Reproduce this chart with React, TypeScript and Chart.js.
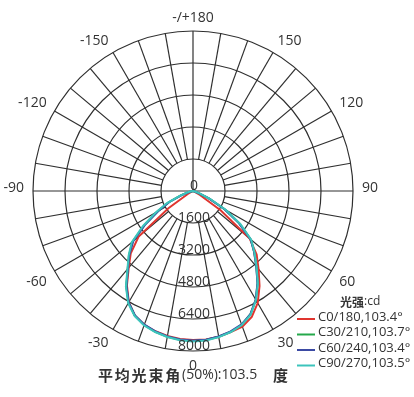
import React, { useEffect, useRef } from 'react';
import { Chart, registerables } from 'chart.js';

Chart.register(...registerables);

// Polar angles (degrees from nadir) at which intensities are read
const ANGLES = [0, 5, 10, 15, 20, 25, 30, 35, 40, 45, 50, 55, 60, 65, 70, 75, 80, 85, 90];

// Luminous intensity (cd); left = negative angles, right = positive angles. Zero above 90°.
const C0_LEFT = [7450, 7430, 7360, 7260, 7120, 6880, 6420, 5760, 5000, 4400, 3550, 1500, 300, 0, 0, 0, 0, 0, 0];
const C0_RIGHT = [7460, 7450, 7400, 7300, 7220, 6950, 6470, 5800, 5100, 4500, 3700, 1700, 400, 0, 0, 0, 0, 0, 0];
const C30_LEFT = [7500, 7470, 7400, 7290, 7130, 6880, 6450, 5820, 5080, 4520, 3950, 2950, 2050, 1350, 650, 250, 50, 0, 0];
const C30_RIGHT = [7500, 7480, 7400, 7290, 7120, 6800, 6280, 5630, 4930, 4330, 3780, 2850, 1850, 900, 300, 80, 0, 0, 0];
const C60_LEFT = [7480, 7450, 7380, 7270, 7110, 6860, 6430, 5800, 5060, 4500, 3900, 2900, 2000, 1300, 600, 200, 0, 0, 0];
const C60_RIGHT = [7480, 7460, 7380, 7270, 7100, 6790, 6270, 5620, 4920, 4320, 3760, 2800, 1800, 850, 250, 50, 0, 0, 0];
const C90_LEFT = [7520, 7490, 7410, 7300, 7150, 6900, 6480, 5850, 5100, 4550, 4000, 3050, 2150, 1450, 700, 300, 100, 0, 0];
const C90_RIGHT = [7520, 7500, 7420, 7300, 7130, 6820, 6300, 5650, 4950, 4350, 3800, 2900, 1900, 950, 350, 100, 0, 0, 0];

const SERIES_NAMES = ['C0/180,103.4°', 'C30/210,103.7°', 'C60/240,103.4°', 'C90/270,103.5°'];
const SERIES_COLORS = ['#e0352f', '#25a84b', '#3b4aa3', '#3cc4bc'];

const RING_TICKS = [0, 1600, 3200, 4800, 6400, 8000];
const ANGLE_TICKS = [180, 150, 120, 90, 60, 30, 0, -30, -60, -90, -120, -150];
const ANGLE_TICK_LABELS = ['-/+180', '150', '120', '90', '60', '30', '0', '-30', '-60', '-90', '-120', '-150'];

const LEGEND_TITLE_BOLD = '光强';
const LEGEND_TITLE_UNIT = ':cd';
const FOOT_BOLD_1 = '平均光束角';
const FOOT_TEXT = '(50%):103.5';
const FOOT_BOLD_2 = '度';

const GRID = '#2f2f2f';
const TEXT = '#333333';
const FONT = '"Open Sans", "Noto Sans", sans-serif';
const CJK = '"Noto Sans CJK SC", "Noto Sans", sans-serif';

// radar label index i <-> angle -5*i (clockwise from nadir, left side negative)
const LABEL_DEGS = Array.from({ length: 72 }, (_, i) => (i <= 36 ? -5 * i : 360 - 5 * i));
const idxOf = (deg: number) => (deg <= 0 ? -deg / 5 : 72 - deg / 5);

function series(left: number[], right: number[]) {
  return LABEL_DEGS.map((d) => {
    const arr = d <= 0 ? left : right;
    const k = ANGLES.indexOf(Math.abs(d));
    return k >= 0 ? arr[k] : 0;
  });
}

const polarDecor = {
  id: 'polarDecor',
  beforeDatasetsDraw(chart: any) {
    const s = chart.scales.r;
    const ctx = chart.ctx;
    const rin = s.getDistanceFromCenterForValue(1600);
    const rout = s.getDistanceFromCenterForValue(8000);
    ctx.save();
    ctx.strokeStyle = GRID;
    ctx.lineWidth = 1.2;
    for (let deg = -170; deg <= 180; deg += 10) {
      if (deg === 0) continue;
      const i = idxOf(deg);
      const full = deg === 180 || deg === 90 || deg === -90;
      const p0 = s.getPointPosition(i, full ? 0 : rin);
      const p1 = s.getPointPosition(i, rout);
      ctx.beginPath();
      ctx.moveTo(p0.x, p0.y);
      ctx.lineTo(p1.x, p1.y);
      ctx.stroke();
    }
    ctx.restore();
  },
  afterDraw(chart: any) {
    const s = chart.scales.r;
    const ctx = chart.ctx;
    ctx.save();
    ctx.fillStyle = TEXT;
    // radial tick labels along nadir
    ctx.font = `14px ${FONT}`;
    ctx.textAlign = 'center';
    ctx.textBaseline = 'alphabetic';
    RING_TICKS.forEach((v) => {
      const p = s.getPointPosition(0, s.getDistanceFromCenterForValue(v));
      ctx.fillText(String(v), p.x + 1, p.y - 1);
    });
    // angle labels, anchored at their near edge like point labels
    ANGLE_TICKS.forEach((deg, k) => {
      const label = ANGLE_TICK_LABELS[k];
      const p = s.getPointPosition(idxOf(deg), 169);
      const a = Math.abs(deg);
      ctx.textAlign = a === 0 || a === 180 ? 'center' : deg > 0 ? 'left' : 'right';
      let y = p.y;
      if (a < 90) y = p.y + 10;
      else if (a === 90) y = p.y + 1;
      ctx.fillText(label, p.x, y);
    });
    // legend
    ctx.textAlign = 'left';
    ctx.textBaseline = 'middle';
    ctx.font = `bold 12px ${CJK}`;
    ctx.fillText(LEGEND_TITLE_BOLD, 340, 302);
    const tw = ctx.measureText(LEGEND_TITLE_BOLD).width;
    ctx.font = `12px ${FONT}`;
    ctx.fillText(LEGEND_TITLE_UNIT, 340 + tw, 302);
    ctx.font = `13px ${FONT}`;
    SERIES_NAMES.forEach((name, k) => {
      const y = 317 + k * 15.5;
      ctx.strokeStyle = SERIES_COLORS[k];
      ctx.lineWidth = 2;
      ctx.beginPath();
      ctx.moveTo(297, y + 2);
      ctx.lineTo(315, y + 2);
      ctx.stroke();
      ctx.fillText(name, 318, y);
    });
    // footer
    const fy = 375;
    ctx.font = `bold 15px ${CJK}`;
    Array.from(FOOT_BOLD_1).forEach((ch, k) => ctx.fillText(ch, 98 + k * 16.8, fy));
    ctx.font = `14px ${FONT}`;
    ctx.fillText(FOOT_TEXT, 182, fy);
    ctx.font = `bold 15px ${CJK}`;
    ctx.fillText(FOOT_BOLD_2, 273, fy);
    ctx.restore();
  },
};

export default function App() {
  const ref = useRef<HTMLCanvasElement>(null);
  useEffect(() => {
    if (!ref.current) return;
    const sets = [
      [C0_LEFT, C0_RIGHT],
      [C30_LEFT, C30_RIGHT],
      [C60_LEFT, C60_RIGHT],
      [C90_LEFT, C90_RIGHT],
    ];
    const chart = new Chart(ref.current, {
      type: 'radar',
      data: {
        labels: LABEL_DEGS.map(String),
        datasets: sets.map(([l, r], k) => ({
          label: SERIES_NAMES[k],
          data: series(l, r),
          borderColor: SERIES_COLORS[k],
          backgroundColor: 'transparent',
          borderWidth: 2,
          fill: false,
          pointRadius: 0,
          tension: 0,
          order: 3 - k,
        })),
      },
      options: {
        responsive: false,
        animation: false,
        layout: { padding: { left: 33, top: 31, right: 61, bottom: 46 } },
        plugins: { legend: { display: false }, tooltip: { enabled: false }, title: { display: false } },
        scales: {
          r: {
            min: 0,
            max: 8000,
            startAngle: 180,
            ticks: { stepSize: 1600, display: false },
            grid: { circular: true, color: GRID, lineWidth: 1.2 },
            angleLines: { display: false },
            pointLabels: { display: false },
          },
        },
      } as any,
      plugins: [polarDecor],
    });
    return () => chart.destroy();
  }, []);
  return (
    <div style={{ position: 'absolute', left: 0, top: 0, width: 414, height: 397, background: '#fff' }}>
      <canvas ref={ref} width={414} height={397} style={{ display: 'block' }} />
    </div>
  );
}
